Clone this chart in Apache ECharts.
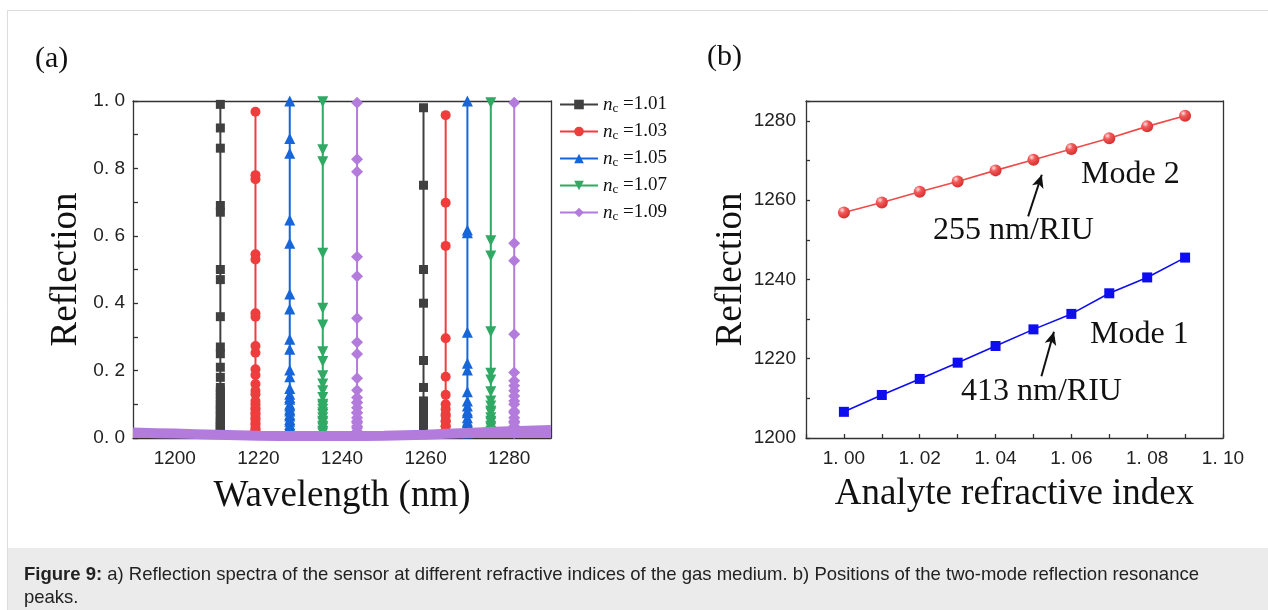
<!DOCTYPE html>
<html><head><meta charset="utf-8">
<script src="https://cdn.jsdelivr.net/npm/echarts@6/dist/echarts.min.js"></script>
<style>html,body{margin:0;padding:0;background:#fff}#c{width:1268px;height:610px}</style>
</head><body><div id="c"></div>
<script>
// ---------- Panel (a) data ----------
const legendNames = ['1.01', '1.03', '1.05', '1.07', '1.09'];
const peakMode1 = [1210.9, 1219.3, 1227.5, 1235.4, 1243.6];
const peakMode2 = [1259.5, 1264.8, 1270.0, 1275.6, 1281.2];
const baseWl = [1190, 1200, 1210, 1220, 1230, 1240, 1250, 1260, 1270, 1280, 1290];
const baseRefl = [0.016, 0.013, 0.010, 0.007, 0.006, 0.006, 0.007, 0.010, 0.015, 0.020, 0.024];
const spike101a = [0.02, 0.03, 0.04, 0.05, 0.065, 0.08, 0.095, 0.11, 0.13, 0.15, 0.21, 0.27, 0.36, 0.50, 0.69, 0.92, 0.99, 0.86, 0.67, 0.47, 0.25, 0.18, 0.14, 0.12, 0.10, 0.085, 0.07, 0.055, 0.045, 0.035, 0.025, 0.015];
const spike101b = [0.02, 0.03, 0.045, 0.065, 0.09, 0.15, 0.40, 0.75, 0.98, 0.50, 0.23, 0.11, 0.095, 0.08, 0.065, 0.055, 0.04, 0.03, 0.015];
const spike103a = [0.02, 0.03, 0.045, 0.06, 0.075, 0.09, 0.11, 0.14, 0.187, 0.253, 0.36, 0.53, 0.768, 0.968, 0.78, 0.545, 0.37, 0.273, 0.204, 0.16, 0.13, 0.10, 0.085, 0.07, 0.055, 0.04, 0.025, 0.015];
const spike103b = [0.02, 0.035, 0.05, 0.07, 0.10, 0.182, 0.57, 0.958, 0.698, 0.296, 0.128, 0.085, 0.065, 0.05, 0.035, 0.02];
const spike105a = [0.02, 0.035, 0.05, 0.065, 0.08, 0.095, 0.115, 0.13, 0.182, 0.263, 0.383, 0.578, 0.845, 1.0, 0.889, 0.647, 0.427, 0.293, 0.202, 0.147, 0.12, 0.10, 0.085, 0.07, 0.055, 0.04, 0.025, 0.015];
const spike105b = [0.02, 0.035, 0.05, 0.08, 0.11, 0.202, 0.314, 0.609, 1.0, 0.617, 0.222, 0.137, 0.095, 0.075, 0.06, 0.045, 0.03, 0.015];
const spike107a = [0.02, 0.035, 0.05, 0.07, 0.085, 0.10, 0.14, 0.185, 0.256, 0.385, 0.82, 0.998, 0.855, 0.548, 0.335, 0.227, 0.16, 0.12, 0.095, 0.075, 0.06, 0.045, 0.03, 0.015];
const spike107b = [0.02, 0.035, 0.05, 0.08, 0.11, 0.172, 0.315, 0.585, 0.995, 0.54, 0.192, 0.137, 0.095, 0.075, 0.06, 0.045, 0.03, 0.015];
const spike109a = [0.02, 0.035, 0.05, 0.075, 0.105, 0.142, 0.249, 0.355, 0.538, 0.827, 0.995, 0.79, 0.48, 0.284, 0.177, 0.12, 0.105, 0.09, 0.075, 0.06, 0.045, 0.03, 0.015];
const spike109b = [0.02, 0.035, 0.05, 0.075, 0.11, 0.14, 0.17, 0.308, 0.578, 0.995, 0.526, 0.194, 0.155, 0.125, 0.10, 0.08, 0.06, 0.045, 0.03, 0.015];
const spikesMode1 = [spike101a, spike103a, spike105a, spike107a, spike109a];
const spikesMode2 = [spike101b, spike103b, spike105b, spike107b, spike109b];

// ---------- Panel (b) data ----------
const riIndex = [1.00, 1.01, 1.02, 1.03, 1.04, 1.05, 1.06, 1.07, 1.08, 1.09];
const mode1Peak = [1206.6, 1210.85, 1214.9, 1219.0, 1223.2, 1227.4, 1231.3, 1236.5, 1240.5, 1245.5];
const mode2Peak = [1256.9, 1259.4, 1262.1, 1264.7, 1267.5, 1270.2, 1272.9, 1275.6, 1278.6, 1281.3];

// ---------- styles ----------
const SERIF = "'Liberation Serif', 'Times New Roman', serif";
const SANS = "'Liberation Sans', Arial, sans-serif";
const colorsA = ['#404040', '#ef3d3d', '#1766d9', '#30a964', '#b37bdb'];
const symbolsA = ['rect', 'circle', 'triangle', 'triangle', 'diamond'];
const symbolSizesA = [9, 10, 11, 11, 12];
const symbolRotA = [0, 0, 0, 180, 0];
const axisLineStyle = {color: '#333', width: 1.3};

function buildSpectrum(i) {
  const pts = baseWl.map((w, j) => ({value: [w, baseRefl[j]], symbol: 'none'}));
  spikesMode1[i].forEach(r => pts.push({value: [peakMode1[i], r]}));
  spikesMode2[i].forEach(r => pts.push({value: [peakMode2[i], r]}));
  pts.sort((a, b) => a.value[0] - b.value[0]);
  return pts;
}

const seriesA = legendNames.map((n, i) => ({
  name: n, type: 'line', xAxisIndex: 0, yAxisIndex: 0,
  data: buildSpectrum(i),
  symbol: symbolsA[i], symbolSize: symbolSizesA[i], symbolRotate: symbolRotA[i],
  showAllSymbol: true,
  lineStyle: {color: colorsA[i], width: 2},
  itemStyle: {color: colorsA[i]},
  silent: true, z: 2 + i
}));

seriesA.push({
  name: 'baseline', type: 'line', xAxisIndex: 0, yAxisIndex: 0,
  data: baseWl.map((w, j) => [w, baseRefl[j]]),
  showSymbol: false, smooth: 0.3,
  lineStyle: {color: colorsA[4], width: 10},
  areaStyle: {color: colorsA[4], opacity: 1},
  silent: true, z: 10
});

const redBall = new echarts.graphic.RadialGradient(0.35, 0.3, 0.75, [
  {offset: 0, color: '#ffe2e2'}, {offset: 0.35, color: '#f25a5a'}, {offset: 1, color: '#d62a2a'}
]);

const seriesB = [
  {
    name: 'Mode 2', type: 'line', xAxisIndex: 2, yAxisIndex: 2,
    data: riIndex.map((x, i) => [x, mode2Peak[i]]),
    symbol: 'circle', symbolSize: 12,
    lineStyle: {color: '#ef4a4a', width: 1.6},
    itemStyle: {color: redBall},
    silent: true,
    markLine: {
      silent: true, symbol: ['none', 'arrow'], symbolSize: [9, 13],
      label: {show: false},
      lineStyle: {color: '#111', width: 2, type: 'solid'},
      data: [
        [{coord: [1.0486, 1255.9]}, {coord: [1.0522, 1266.4]}],
        [{coord: [1.0521, 1215.6]}, {coord: [1.0554, 1226.8]}]
      ]
    }
  },
  {
    name: 'Mode 1', type: 'line', xAxisIndex: 2, yAxisIndex: 2,
    data: riIndex.map((x, i) => [x, mode1Peak[i]]),
    symbol: 'rect', symbolSize: 10,
    lineStyle: {color: '#0d0df0', width: 1.6},
    itemStyle: {color: '#0d0df0'},
    silent: true
  }
];

const frameAxis = (grid, pos, min, max) => ({
  gridIndex: grid, type: 'value', position: pos, min: min, max: max,
  axisLine: {show: true, onZero: false, lineStyle: axisLineStyle},
  axisTick: {show: false}, axisLabel: {show: false}, splitLine: {show: false}
});

const option = {
  animation: false,
  backgroundColor: '#fff',
  grid: [
    {left: 133, top: 101, width: 418, height: 337},
    {left: 806, top: 101, width: 417, height: 337}
  ],
  legend: {
    data: legendNames, orient: 'vertical', left: 554, top: 90,
    itemWidth: 38, itemHeight: 12, itemGap: 6.5,
    selectedMode: false,
    formatter: n => '{i|n}{s|c}{t| =' + n + '}',
    textStyle: {
      fontFamily: SERIF, fontSize: 19, color: '#111',
      rich: {
        i: {fontFamily: SERIF, fontSize: 19, fontStyle: 'italic', color: '#111'},
        s: {fontFamily: SERIF, fontSize: 13, color: '#111', padding: [9, 0, 0, 0]},
        t: {fontFamily: SERIF, fontSize: 19, color: '#111'}
      }
    }
  },
  xAxis: [
    {
      gridIndex: 0, type: 'value', position: 'bottom', min: 1190, max: 1290, interval: 10,
      axisLine: {show: true, onZero: false, lineStyle: axisLineStyle},
      axisTick: {show: false}, splitLine: {show: false},
      axisLabel: {formatter: v => (v % 20 === 0 ? String(v) : ''), fontFamily: SANS, fontSize: 19, color: '#222', margin: 11},
      name: 'Wavelength (nm)', nameLocation: 'middle', nameGap: 58,
      nameTextStyle: {fontFamily: SERIF, fontSize: 37, color: '#111', verticalAlign: 'middle'}
    },
    frameAxis(0, 'top', 1190, 1290),
    {
      gridIndex: 1, type: 'value', position: 'bottom', min: 0.99, max: 1.10, interval: 0.01,
      axisLine: {show: true, onZero: false, lineStyle: axisLineStyle},
      axisTick: {show: true, inside: true, length: 4, lineStyle: axisLineStyle},
      splitLine: {show: false},
      axisLabel: {
        formatter: v => { const k = Math.round(v * 100); return (k >= 100 && k % 2 === 0) ? (k / 100).toFixed(2).replace('.', '. ') : ''; },
        fontFamily: SANS, fontSize: 19, color: '#222', margin: 11
      },
      name: 'Analyte refractive index', nameLocation: 'middle', nameGap: 56,
      nameTextStyle: {fontFamily: SERIF, fontSize: 37, color: '#111', verticalAlign: 'middle'}
    },
    frameAxis(1, 'top', 0.99, 1.10)
  ],
  yAxis: [
    {
      gridIndex: 0, type: 'value', position: 'left', min: 0, max: 1, interval: 0.1,
      axisLine: {show: true, onZero: false, lineStyle: axisLineStyle},
      axisTick: {show: true, inside: true, length: 5, lineStyle: axisLineStyle},
      splitLine: {show: false},
      axisLabel: {
        formatter: v => { const k = Math.round(v * 10); return k % 2 === 0 ? (k / 10).toFixed(1).replace('.', '. ') : ''; },
        fontFamily: SANS, fontSize: 19, color: '#222', margin: 8
      },
      name: 'Reflection', nameLocation: 'middle', nameGap: 67, nameRotate: 90,
      nameTextStyle: {fontFamily: SERIF, fontSize: 37, color: '#111', verticalAlign: 'middle'}
    },
    frameAxis(0, 'right', 0, 1),
    {
      gridIndex: 1, type: 'value', position: 'left', min: 1200, max: 1285, interval: 10,
      axisLine: {show: true, onZero: false, lineStyle: axisLineStyle},
      axisTick: {show: true, inside: true, length: 4, lineStyle: axisLineStyle},
      splitLine: {show: false},
      axisLabel: {formatter: v => (v % 20 === 0 ? String(v) : ''), fontFamily: SANS, fontSize: 19, color: '#222', margin: 10},
      name: 'Reflection', nameLocation: 'middle', nameGap: 72, nameRotate: 90,
      nameTextStyle: {fontFamily: SERIF, fontSize: 37, color: '#111', verticalAlign: 'middle'}
    },
    frameAxis(1, 'right', 1200, 1285)
  ],
  series: seriesA.concat(seriesB),
  graphic: [
    {type: 'rect', z: -10, shape: {x: 7.5, y: 10.5, width: 1300, height: 620}, style: {fill: '#fff', stroke: '#dddddd', lineWidth: 1}},
    {type: 'rect', z: -9, shape: {x: 8, y: 548, width: 1300, height: 70}, style: {fill: '#ebebeb'}},
    {type: 'text', x: 35, y: 59, style: {text: '(a)', font: '30px ' + SERIF, fill: '#111', verticalAlign: 'middle'}},
    {type: 'text', x: 707, y: 57, style: {text: '(b)', font: '30px ' + SERIF, fill: '#111', verticalAlign: 'middle'}},
    {type: 'text', x: 1081, y: 175, style: {text: 'Mode 2', font: '32px ' + SERIF, fill: '#111', verticalAlign: 'middle'}},
    {type: 'text', x: 933, y: 231, style: {text: '255 nm/RIU', font: '32px ' + SERIF, fill: '#111', verticalAlign: 'middle'}},
    {type: 'text', x: 1090, y: 335, style: {text: 'Mode 1', font: '32px ' + SERIF, fill: '#111', verticalAlign: 'middle'}},
    {type: 'text', x: 961, y: 392, style: {text: '413 nm/RIU', font: '32px ' + SERIF, fill: '#111', verticalAlign: 'middle'}},
    {type: 'text', x: 24, y: 563, style: {
      text: '{b|Figure 9:} a) Reflection spectra of the sensor at different refractive indices of the gas medium. b) Positions of the two-mode reflection resonance\npeaks.',
      fontFamily: SANS, fontSize: 18.5, fill: '#222', lineHeight: 23, verticalAlign: 'top',
      rich: {b: {fontFamily: SANS, fontSize: 18.5, fontWeight: 'bold', fill: '#222', lineHeight: 23}}
    }}
  ]
};

const chart = echarts.init(document.getElementById('c'), null, {renderer: 'canvas'});
chart.setOption(option);
</script>
</body></html>
